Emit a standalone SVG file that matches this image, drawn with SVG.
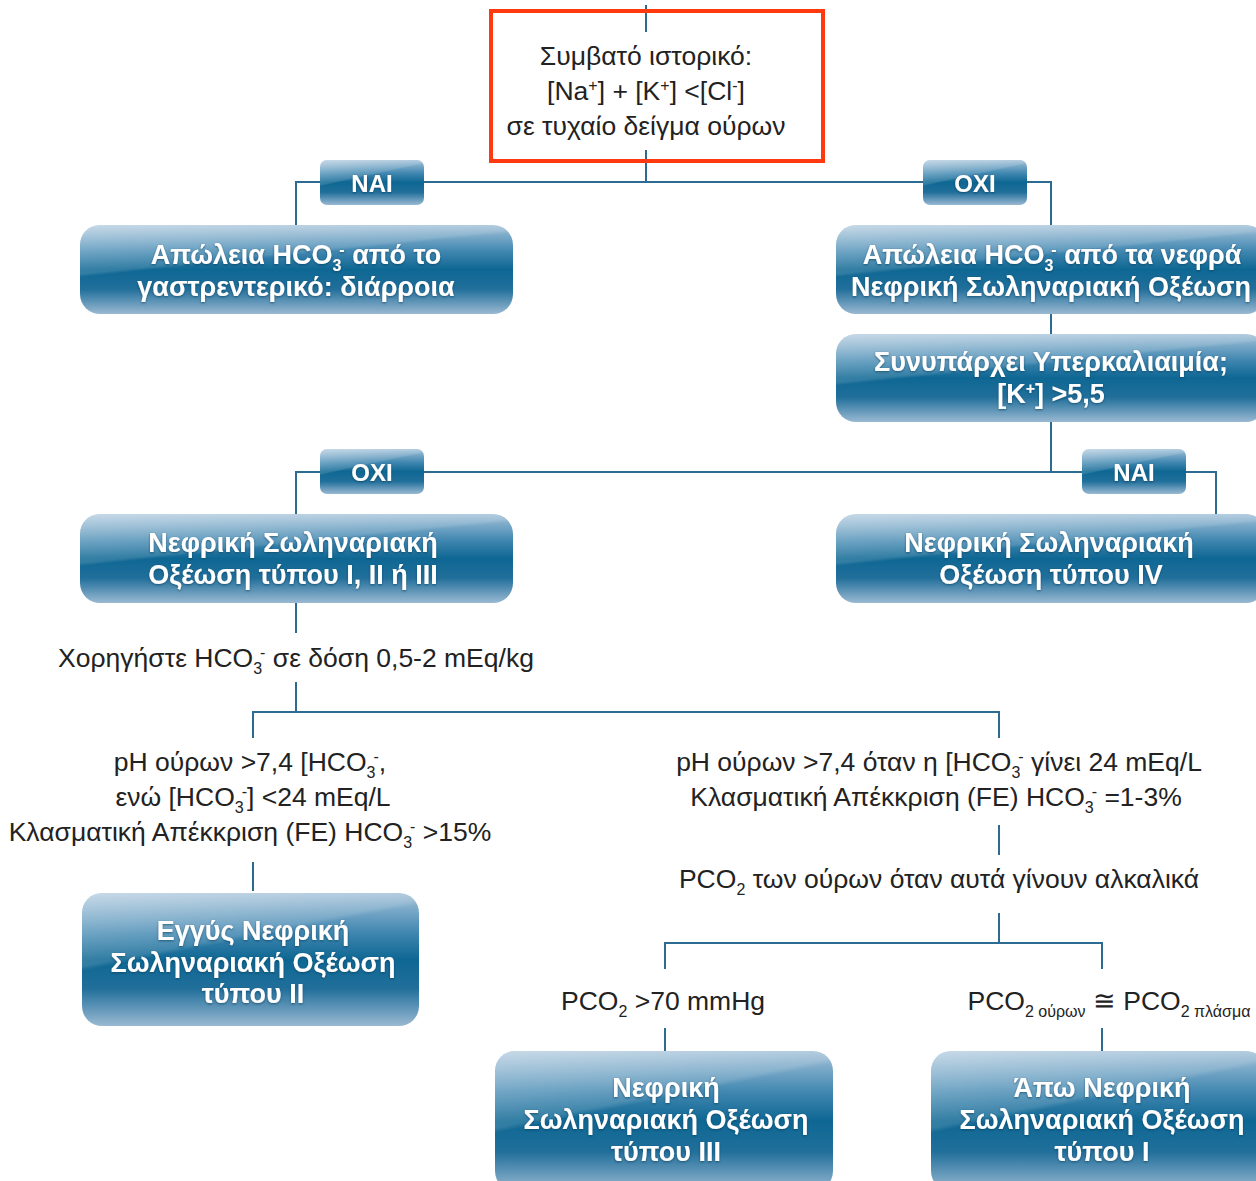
<svg xmlns="http://www.w3.org/2000/svg" width="1256" height="1181" viewBox="0 0 1256 1181">
<defs>
<linearGradient id="gBase" x1="0" y1="0" x2="0" y2="1">
<stop offset="0" stop-color="#a4c2d9"/>
<stop offset="0.3" stop-color="#3f86b0"/>
<stop offset="0.5" stop-color="#0e6793"/>
<stop offset="0.72" stop-color="#216f9b"/>
<stop offset="1" stop-color="#9ab9d2"/>
</linearGradient>
<linearGradient id="gGloss" x1="0" y1="0" x2="0.5" y2="1">
<stop offset="0" stop-color="#ffffff" stop-opacity="0.38"/>
<stop offset="0.44" stop-color="#ffffff" stop-opacity="0.14"/>
<stop offset="0.47" stop-color="#ffffff" stop-opacity="0"/>
<stop offset="1" stop-color="#ffffff" stop-opacity="0"/>
</linearGradient>
<filter id="sh" x="-5%" y="-20%" width="110%" height="140%">
<feGaussianBlur in="SourceAlpha" stdDeviation="1"/>
<feOffset dx="0" dy="1" result="b"/>
<feFlood flood-color="#0a3550" flood-opacity="0.6"/>
<feComposite in2="b" operator="in"/>
<feMerge><feMergeNode/><feMergeNode in="SourceGraphic"/></feMerge>
</filter>
</defs>
<style>
.ln{stroke:#2c6c93;stroke-width:2;fill:none}
.bb{fill:url(#gBase)}
.gl{fill:url(#gGloss)}
.bt{fill:#ffffff;font-family:"Liberation Sans",Arial,sans-serif;font-weight:bold;font-size:27px;text-anchor:middle;filter:url(#sh)}
.lt{fill:#ffffff;font-family:"Liberation Sans",Arial,sans-serif;font-weight:bold;font-size:24px;text-anchor:middle;filter:url(#sh)}
.tx{fill:#222222;font-family:"Liberation Sans",Arial,sans-serif;font-size:26.5px;text-anchor:middle}
.sb{font-size:16px}
</style>
<rect width="1256" height="1181" fill="#ffffff"/>

<g id="connectors">
<line class="ln" x1="646" y1="5" x2="646" y2="32"/>
<line class="ln" x1="646" y1="150" x2="646" y2="182"/>
<polyline class="ln" points="296,225 296,182 1051,182 1051,225"/>
<line class="ln" x1="1051" y1="314" x2="1051" y2="334"/>
<line class="ln" x1="1051" y1="422" x2="1051" y2="472"/>
<polyline class="ln" points="296,514 296,472 1216,472 1216,514"/>
<line class="ln" x1="296" y1="603" x2="296" y2="633"/>
<line class="ln" x1="296" y1="682" x2="296" y2="712"/>
<polyline class="ln" points="253,738 253,712 999,712 999,738"/>
<line class="ln" x1="253" y1="862" x2="253" y2="891"/>
<line class="ln" x1="999" y1="825" x2="999" y2="855"/>
<line class="ln" x1="999" y1="913" x2="999" y2="943"/>
<polyline class="ln" points="665,969 665,943 1102,943 1102,969"/>
<line class="ln" x1="665" y1="1028" x2="665" y2="1051"/>
<line class="ln" x1="1102" y1="1028" x2="1102" y2="1051"/>
</g>

<g id="n-start">
<rect x="491" y="11" width="332" height="150" fill="none" stroke="#ff3a10" stroke-width="4"/>
<text class="tx" x="646" y="65">Συμβατό ιστορικό:</text>
<text class="tx" x="646" y="100">[Na<tspan class="sb" dy="-9">+</tspan><tspan dy="9">] + [K</tspan><tspan class="sb" dy="-9">+</tspan><tspan dy="9">] &lt;[Cl</tspan><tspan class="sb" dy="-9">-</tspan><tspan dy="9">]</tspan></text>
<text class="tx" x="646" y="135">σε τυχαίο δείγμα ούρων</text>
</g>

<g id="n-nai1">
<rect class="bb" x="320" y="160" width="104" height="45" rx="7"/>
<rect class="gl" x="320" y="160" width="104" height="45" rx="7"/>
<text class="lt" x="372" y="192">NAI</text>
</g>
<g id="n-oxi1">
<rect class="bb" x="923" y="160" width="104" height="45" rx="7"/>
<rect class="gl" x="923" y="160" width="104" height="45" rx="7"/>
<text class="lt" x="975" y="192">OXI</text>
</g>

<g id="n-gi">
<rect class="bb" x="80" y="225" width="433" height="89" rx="20"/>
<rect class="gl" x="80" y="225" width="433" height="89" rx="20"/>
<text class="bt" x="296" y="264">Απώλεια HCO<tspan class="sb" dy="7">3</tspan><tspan class="sb" dx="-2" dy="-16">-</tspan><tspan dy="9"> από το</tspan></text>
<text class="bt" x="296" y="296">γαστρεντερικό: διάρροια</text>
</g>

<g id="n-renal">
<rect class="bb" x="836" y="225" width="430" height="89" rx="20"/>
<rect class="gl" x="836" y="225" width="430" height="89" rx="20"/>
<text class="bt" x="1052" y="264">Απώλεια HCO<tspan class="sb" dy="7">3</tspan><tspan class="sb" dx="-2" dy="-16">-</tspan><tspan dy="9"> από τα νεφρά</tspan></text>
<text class="bt" x="1051" y="296">Νεφρική Σωληναριακή Οξέωση</text>
</g>

<g id="n-hyperk">
<rect class="bb" x="836" y="334" width="430" height="88" rx="20"/>
<rect class="gl" x="836" y="334" width="430" height="88" rx="20"/>
<text class="bt" x="1051" y="371">Συνυπάρχει Υπερκαλιαιμία;</text>
<text class="bt" x="1051" y="403">[K<tspan class="sb" dy="-9">+</tspan><tspan dy="9">] &gt;5,5</tspan></text>
</g>

<g id="n-oxi2">
<rect class="bb" x="320" y="449" width="104" height="45" rx="7"/>
<rect class="gl" x="320" y="449" width="104" height="45" rx="7"/>
<text class="lt" x="372" y="481">OXI</text>
</g>
<g id="n-nai2">
<rect class="bb" x="1082" y="449" width="104" height="45" rx="7"/>
<rect class="gl" x="1082" y="449" width="104" height="45" rx="7"/>
<text class="lt" x="1134" y="481">NAI</text>
</g>

<g id="n-type123">
<rect class="bb" x="80" y="514" width="433" height="89" rx="20"/>
<rect class="gl" x="80" y="514" width="433" height="89" rx="20"/>
<text class="bt" x="293" y="552">Νεφρική Σωληναριακή</text>
<text class="bt" x="293" y="584">Οξέωση τύπου I, II ή III</text>
</g>

<g id="n-type4">
<rect class="bb" x="836" y="514" width="430" height="89" rx="20"/>
<rect class="gl" x="836" y="514" width="430" height="89" rx="20"/>
<text class="bt" x="1049" y="552">Νεφρική Σωληναριακή</text>
<text class="bt" x="1051" y="584">Οξέωση τύπου IV</text>
</g>

<g id="t-dose">
<text class="tx" x="296" y="667">Χορηγήστε HCO<tspan class="sb" dy="7">3</tspan><tspan class="sb" dx="-2" dy="-16">-</tspan><tspan dy="9"> σε δόση 0,5-2 mEq/kg</tspan></text>
</g>

<g id="t-left">
<text class="tx" x="250" y="771">pH ούρων &gt;7,4 [HCO<tspan class="sb" dy="7">3</tspan><tspan class="sb" dx="-2" dy="-16">-</tspan><tspan dy="9">,</tspan></text>
<text class="tx" x="253" y="806">ενώ [HCO<tspan class="sb" dy="7">3</tspan><tspan class="sb" dx="-2" dy="-16">-</tspan><tspan dy="9">] &lt;24 mEq/L</tspan></text>
<text class="tx" x="250" y="841">Κλασματική Απέκκριση (FE) HCO<tspan class="sb" dy="7">3</tspan><tspan class="sb" dx="-2" dy="-16">-</tspan><tspan dy="9"> &gt;15%</tspan></text>
</g>

<g id="t-right">
<text class="tx" x="939" y="771">pH ούρων &gt;7,4 όταν η [HCO<tspan class="sb" dy="7">3</tspan><tspan class="sb" dx="-2" dy="-16">-</tspan><tspan dy="9"> γίνει 24 mEq/L</tspan></text>
<text class="tx" x="936" y="806">Κλασματική Απέκκριση (FE) HCO<tspan class="sb" dy="7">3</tspan><tspan class="sb" dx="-2" dy="-16">-</tspan><tspan dy="9"> =1-3%</tspan></text>
</g>

<g id="t-pco2">
<text class="tx" x="939" y="888">PCO<tspan class="sb" dy="7">2</tspan><tspan dy="-7"> των ούρων όταν αυτά γίνουν αλκαλικά</tspan></text>
</g>

<g id="n-type2">
<rect class="bb" x="82" y="893" width="337" height="133" rx="20"/>
<rect class="gl" x="82" y="893" width="337" height="133" rx="20"/>
<text class="bt" x="253" y="940">Εγγύς Νεφρική</text>
<text class="bt" x="253" y="972">Σωληναριακή Οξέωση</text>
<text class="bt" x="253" y="1003">τύπου II</text>
</g>

<g id="t-pco2hi">
<text class="tx" x="663" y="1010">PCO<tspan class="sb" dy="7">2</tspan><tspan dy="-7"> &gt;70 mmHg</tspan></text>
</g>
<g id="t-pco2eq">
<text class="tx" x="1109" y="1010">PCO<tspan class="sb" font-size="14" dy="7">2 ούρων</tspan><tspan dy="-7"> ≅ PCO</tspan><tspan class="sb" font-size="14" dy="7">2 πλάσμα</tspan></text>
</g>

<g id="n-type3">
<rect class="bb" x="495" y="1051" width="338" height="140" rx="20"/>
<rect class="gl" x="495" y="1051" width="338" height="140" rx="20"/>
<text class="bt" x="666" y="1097">Νεφρική</text>
<text class="bt" x="666" y="1129">Σωληναριακή Οξέωση</text>
<text class="bt" x="666" y="1161">τύπου III</text>
</g>

<g id="n-type1">
<rect class="bb" x="931" y="1051" width="335" height="140" rx="20"/>
<rect class="gl" x="931" y="1051" width="335" height="140" rx="20"/>
<text class="bt" x="1102" y="1097">Άπω Νεφρική</text>
<text class="bt" x="1102" y="1129">Σωληναριακή Οξέωση</text>
<text class="bt" x="1102" y="1161">τύπου I</text>
</g>
</svg>
